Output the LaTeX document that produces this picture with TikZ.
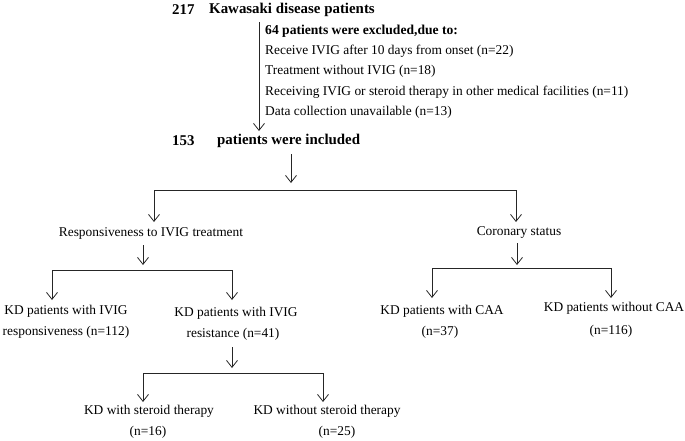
\documentclass[tikz,border=0pt]{standalone}
\usepackage{fontspec}
\setmainfont{Liberation Serif}
\usetikzlibrary{arrows.meta}
\begin{document}
\begin{tikzpicture}[x=1pt,y=-1pt,
  txt/.style={inner sep=0pt, font=\fontsize{13.4}{16}\selectfont},
  btxt/.style={inner sep=0pt, font=\fontsize{14.9}{17}\selectfont\bfseries},
  ln/.style={line width=0.8pt, black!85},
  arr/.style={line width=0.8pt, black!85, -{Straight Barb[length=7pt,width=11pt,line width=0.8pt]}}]
\useasboundingbox (0,0) rectangle (685,440);
% title
\node[btxt, anchor=west] (n217) at (172,10) {217};
\node[btxt, anchor=west] (kd) at (209,10) {Kawasaki disease patients};
% exclusion
\node[txt, anchor=west, font=\fontsize{13.6}{16}\selectfont\bfseries] (ex) at (265,31) {64 patients were excluded,due to:};
\node[txt, anchor=west] (ex1) at (265,51) {Receive IVIG after 10 days from onset (n=22)};
\node[txt, anchor=west] (ex2) at (265,71) {Treatment without IVIG (n=18)};
\node[txt, anchor=west] (ex3) at (265,92) {Receiving IVIG or steroid therapy in other medical facilities (n=11)};
\node[txt, anchor=west] (ex4) at (265,112) {Data collection unavailable (n=13)};
\coordinate (a1s) at (259,22);
\coordinate (a1e) at (259,131);
\draw[arr] (a1s) -- (a1e);
% included
\node[btxt, anchor=west] (n153) at (172,141) {153};
\node[btxt, anchor=west] (inc) at (217,141) {patients were included};
\coordinate (a2s) at (291,154);
\coordinate (a2e) at (291,183);
\draw[arr] (a2s) -- (a2e);
\coordinate (hL) at (154,190);
\coordinate (hR) at (516,190);
\coordinate (dL) at (154,222);
\coordinate (dR) at (516,222);
\draw[ln] (hL) -- (hR);
\draw[arr] (hL) -- (dL);
\draw[arr] (hR) -- (dR);
% level 2
\node[txt] (resp) at (151,233) {Responsiveness to IVIG treatment};
\node[txt] (cor) at (519,233) {Coronary status};
% left branch
\coordinate (a3s) at (143,245);
\coordinate (a3e) at (143,265);
\draw[arr] (a3s) -- (a3e);
\coordinate (h2L) at (52,270);
\coordinate (h2R) at (232,270);
\coordinate (d2L) at (52,300);
\coordinate (d2R) at (232,300);
\draw[ln] (h2L) -- (h2R);
\draw[arr] (h2L) -- (d2L);
\draw[arr] (h2R) -- (d2R);
% right branch
\coordinate (a4s) at (517,243);
\coordinate (a4e) at (517,265);
\draw[arr] (a4s) -- (a4e);
\coordinate (h3L) at (432,268);
\coordinate (h3R) at (611,268);
\coordinate (d3L) at (432,298);
\coordinate (d3R) at (611,298);
\draw[ln] (h3L) -- (h3R);
\draw[arr] (h3L) -- (d3L);
\draw[arr] (h3R) -- (d3R);
% level 3 labels
\node[txt] (r1a) at (66,311) {KD patients with IVIG};
\node[txt] (r1b) at (66,332) {responsiveness (n=112)};
\node[txt] (r2a) at (236,313) {KD patients with IVIG};
\node[txt] (r2b) at (233,334) {resistance (n=41)};
\node[txt] (c1a) at (442,311) {KD patients with CAA};
\node[txt] (c1b) at (440,332) {(n=37)};
\node[txt] (c2a) at (614,308) {KD patients without CAA};
\node[txt] (c2b) at (611,331) {(n=116)};
% resistance branch
\coordinate (a5s) at (232,347);
\coordinate (a5e) at (232,368);
\draw[arr] (a5s) -- (a5e);
\coordinate (h4L) at (143,373);
\coordinate (h4R) at (323,373);
\coordinate (d4L) at (143,402);
\coordinate (d4R) at (323,402);
\draw[ln] (h4L) -- (h4R);
\draw[arr] (h4L) -- (d4L);
\draw[arr] (h4R) -- (d4R);
\node[txt] (s1a) at (149,411) {KD with steroid therapy};
\node[txt] (s1b) at (148,432) {(n=16)};
\node[txt] (s2a) at (327,411) {KD without steroid therapy};
\node[txt] (s2b) at (337,432) {(n=25)};
\end{tikzpicture}
\end{document}
